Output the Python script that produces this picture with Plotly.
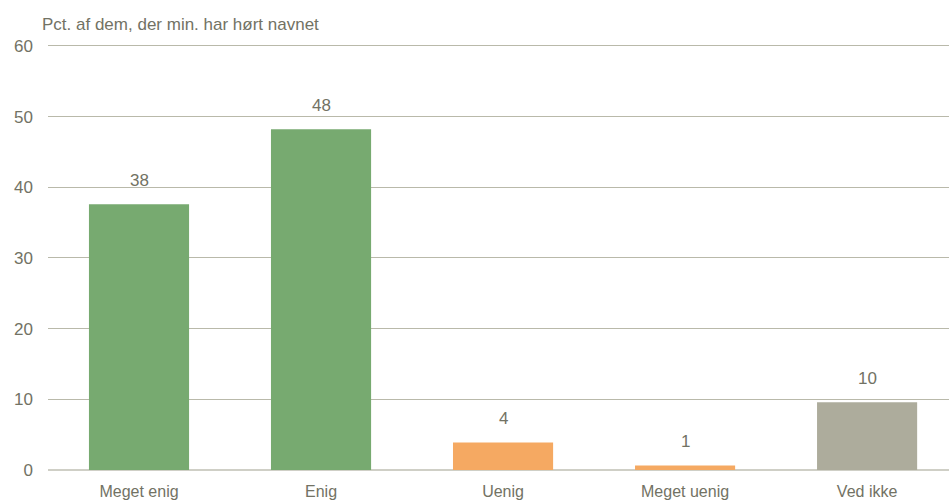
import plotly.graph_objects as go

categories = ["Meget enig", "Enig", "Uenig", "Meget uenig", "Ved ikke"]
values = [37.6, 48.2, 3.9, 0.65, 9.6]
labels = ["38", "48", "4", "1", "10"]
colors = ["#77AA70", "#77AA70", "#F5A962", "#F5A962", "#ADAC9C"]
y_ticks = [0, 10, 20, 30, 40, 50, 60]

FONT = "Liberation Sans Narrow, Arial Narrow, Liberation Sans, sans-serif"
TXT = "#727264"

xs = list(range(len(categories)))

fig = go.Figure(go.Bar(
    x=xs, y=values,
    marker=dict(color=colors, line=dict(width=0)),
    width=0.55, hoverinfo="skip",
))

annotations = [dict(
    x=x, y=v, text=t, xref="x", yref="y", showarrow=False,
    yanchor="bottom", yshift=12,
    font=dict(family=FONT, size=17, color=TXT),
) for x, v, t in zip(xs, values, labels)]

annotations.append(dict(
    text="Pct. af dem, der min. har hørt navnet", xref="paper", yref="paper",
    x=-0.009, y=1.0, xanchor="left", yanchor="bottom", yshift=8, showarrow=False,
    font=dict(family=FONT, size=17, color=TXT),
))

fig.update_layout(
    width=949, height=504,
    margin=dict(l=48, r=0, t=44, b=34),
    plot_bgcolor="white", paper_bgcolor="white",
    showlegend=False,
    font=dict(family=FONT, size=17, color=TXT),
    xaxis=dict(
        tickmode="array", tickvals=xs, ticktext=categories,
        range=[-0.5, 4.45], showgrid=False, zeroline=False, showline=False,
        ticks="", ticklabelstandoff=10, automargin=False,
        tickfont=dict(size=16),
    ),
    yaxis=dict(
        range=[0, 60.28], tickvals=y_ticks, showgrid=True, gridcolor="#B9B9AA",
        gridwidth=1, zeroline=True, zerolinecolor="#CFCFC6", zerolinewidth=2,
        ticks="", ticklabelstandoff=14, automargin=False,
    ),
    annotations=annotations,
)

fig.write_html(
    "out.html",
    config={"displayModeBar": False},
    post_script="document.body.style.margin='0';document.body.style.overflow='hidden';",
)
